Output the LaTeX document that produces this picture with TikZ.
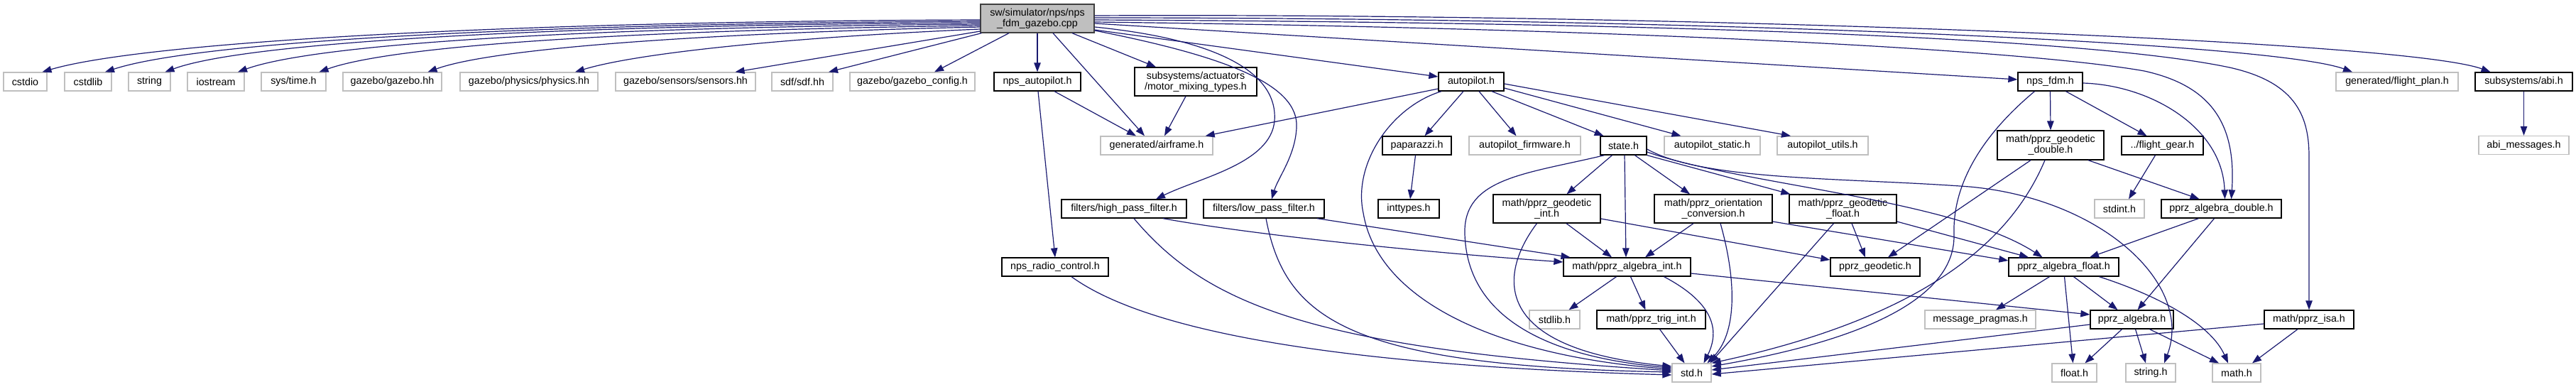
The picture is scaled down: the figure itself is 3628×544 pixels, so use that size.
\documentclass[tikz,border=0pt]{standalone}
\usepackage{fontspec}
\setmainfont{Liberation Sans}
\usetikzlibrary{arrows.meta}
\definecolor{edgeblue}{HTML}{191970}
\definecolor{boxgray}{HTML}{BFBFBF}
\definecolor{rootborder}{HTML}{404040}
\newcommand\dgfont{\fontsize{14.3}{15}\selectfont}
\begin{document}
\begin{tikzpicture}[x=1pt,y=-1pt,
  box/.style={rectangle, inner sep=0pt, align=center, font=\dgfont, line width=1.3pt, fill=white, minimum height=26pt},
  gbox/.style={box, draw=boxgray},
  bbox/.style={box, draw=black},
  rootbox/.style={box, draw=rootborder, fill=boxgray},
  e/.style={draw=edgeblue, line width=1.2pt, -{Triangle[length=13pt,width=9.5pt]}, fill=none}]
\fill[white] (0,0) rectangle (3628,544);
\useasboundingbox (0,0) rectangle (3628,544);

% root
\node[rootbox,minimum width=160pt,minimum height=40pt] (root) at (1461,26) {sw/simulator/nps/nps\\\_fdm\_gazebo.cpp};
% row 1
\node[gbox,minimum width=61pt] (cstdio) at (35.5,115) {cstdio};
\node[gbox,minimum width=66pt] (cstdlib) at (124,115) {cstdlib};
\node[gbox,minimum width=59pt] (string) at (210.5,115) {string};
\node[gbox,minimum width=80pt] (iostream) at (304,115) {iostream};
\node[gbox,minimum width=91pt] (systime) at (413.5,115) {sys/time.h};
\node[gbox,minimum width=139pt] (gazebo) at (552.5,115) {gazebo/gazebo.hh};
\node[gbox,minimum width=194pt] (physics) at (745,115) {gazebo/physics/physics.hh};
\node[gbox,minimum width=197pt] (sensors) at (965.5,115) {gazebo/sensors/sensors.hh};
\node[gbox,minimum width=86pt] (sdf) at (1130,115) {sdf/sdf.hh};
\node[gbox,minimum width=176pt] (gconfig) at (1285,115) {gazebo/gazebo\_config.h};
\node[bbox,minimum width=122pt] (npsap) at (1461,115) {nps\_autopilot.h};
\node[bbox,minimum width=172pt,minimum height=40pt] (motor) at (1684,115) {subsystems/actuators\\/motor\_mixing\_types.h};
\node[bbox,minimum width=92pt] (autopilot) at (2072,115) {autopilot.h};
\node[bbox,minimum width=91pt] (npsfdm) at (2887.5,115) {nps\_fdm.h};
\node[gbox,minimum width=172pt] (flightplan) at (3376,115) {generated/flight\_plan.h};
\node[bbox,minimum width=137pt] (abi) at (3554.5,115) {subsystems/abi.h};
% row 2
\node[gbox,minimum width=158pt] (airframe) at (1629,205) {generated/airframe.h};
\node[bbox,minimum width=97pt] (paparazzi) at (1995.5,205) {paparazzi.h};
\node[gbox,minimum width=157pt] (apfirm) at (2147.5,205) {autopilot\_firmware.h};
\node[bbox,minimum width=65pt] (state) at (2286.5,205) {state.h};
\node[gbox,minimum width=135pt] (apstatic) at (2411.5,205) {autopilot\_static.h};
\node[gbox,minimum width=128pt] (aputils) at (2567,205) {autopilot\_utils.h};
\node[bbox,minimum width=150pt,minimum height=41pt] (geodouble) at (2888,204.5) {math/pprz\_geodetic\\\_double.h};
\node[bbox,minimum width=115pt] (flightgear) at (3045.5,205) {../flight\_gear.h};
\node[gbox,minimum width=127pt] (abimsg) at (3554.5,204.5) {abi\_messages.h};
% row 3
\node[bbox,minimum width=176pt] (hpf) at (1583,294) {filters/high\_pass\_filter.h};
\node[bbox,minimum width=170pt] (lpf) at (1780,294) {filters/low\_pass\_filter.h};
\node[bbox,minimum width=86pt] (inttypes) at (1984,294) {inttypes.h};
\node[bbox,minimum width=151pt,minimum height=40pt] (geoint) at (2178.5,294) {math/pprz\_geodetic\\\_int.h};
\node[bbox,minimum width=166pt,minimum height=40pt] (orient) at (2413,294) {math/pprz\_orientation\\\_conversion.h};
\node[bbox,minimum width=151pt,minimum height=40pt] (geofloat) at (2595.5,294) {math/pprz\_geodetic\\\_float.h};
\node[gbox,minimum width=70pt] (stdint) at (2985,294) {stdint.h};
\node[bbox,minimum width=169pt] (algdouble) at (3128.5,294) {pprz\_algebra\_double.h};
% row 4
\node[bbox,minimum width=150pt] (radio) at (1486,376) {nps\_radio\_control.h};
\node[bbox,minimum width=179pt] (algint) at (2291.5,376) {math/pprz\_algebra\_int.h};
\node[bbox,minimum width=126pt] (geodetic) at (2641,376) {pprz\_geodetic.h};
\node[bbox,minimum width=155pt] (algfloat) at (2906.5,376) {pprz\_algebra\_float.h};
% row 5
\node[gbox,minimum width=71pt] (stdlib) at (2189.5,450) {stdlib.h};
\node[bbox,minimum width=153pt] (trigint) at (2325.5,450) {math/pprz\_trig\_int.h};
\node[gbox,minimum width=156pt] (pragmas) at (2789,450) {message\_pragmas.h};
\node[bbox,minimum width=117pt] (algebra) at (3002.5,450) {pprz\_algebra.h};
\node[bbox,minimum width=126pt] (isa) at (3252,450) {math/pprz\_isa.h};
% row 6
\node[gbox,minimum width=55pt] (std) at (2382.5,525) {std.h};
\node[gbox,minimum width=63pt] (float) at (2921.5,525) {float.h};
\node[gbox,minimum width=70pt] (stringh) at (3029,525) {string.h};
\node[gbox,minimum width=68pt] (math) at (3150,525) {math.h};

% ---- edges from root, to the left
\draw[e] ([yshift=-2pt]root.west) .. controls (700,30) and (200,60) .. ([xshift=24pt]cstdio.north);
\draw[e] ([yshift=-4pt]root.west) .. controls (750,33) and (280,58) .. ([xshift=24pt]cstdlib.north);
\draw[e] ([yshift=-6pt]root.west) .. controls (800,35) and (350,58) .. ([xshift=22pt]string.north);
\draw[e] ([yshift=-8pt]root.west) .. controls (850,38) and (450,60) .. ([xshift=31pt]iostream.north);
\draw[e] ([yshift=-10pt]root.west) .. controls (920,42) and (560,62) .. ([xshift=36pt]systime.north);
\draw[e] ([yshift=-12pt]root.west) .. controls (1020,46) and (700,66) .. ([xshift=50pt]gazebo.north);
\draw[e] ([yshift=-15pt]root.west) .. controls (1120,52) and (900,74) .. ([xshift=65pt]physics.north);
\draw[e] ([yshift=-18pt]root.west) -- ([xshift=70pt]sensors.north);
\draw[e] ([xshift=2pt]root.south west) -- ([xshift=37pt]sdf.north);
\draw[e] ([xshift=-40pt]root.south) -- ([xshift=31pt]gconfig.north);
\draw[e] (root.south) -- (npsap.north);
\draw[e] ([xshift=22pt]root.south) -- ([xshift=-17pt]airframe.north);
\draw[e] ([xshift=49pt]root.south) -- ([xshift=-56pt]motor.north);
% ---- edges from root, to the right
\draw[e] ([yshift=-12pt]root.east) .. controls (1710,55) and (1800,100) .. (1795,170) .. controls (1790,230) and (1690,250) .. ([xshift=45pt]hpf.north);
\draw[e] ([yshift=-17pt]root.east) .. controls (1730,80) and (1830,120) .. (1826,180) .. controls (1824,220) and (1800,250) .. ([xshift=11pt]lpf.north);
\draw[e] ([yshift=-16pt]root.east) -- ([yshift=7pt]autopilot.west);
\draw[e] ([yshift=-7pt]root.east) -- ([yshift=3pt]npsfdm.west);
\draw[e] ([yshift=1pt]root.east) .. controls (2400,25) and (3200,60) .. ([xshift=-63pt]flightplan.north);
\draw[e] ([yshift=4pt]root.east) .. controls (2300,18) and (3380,55) .. ([xshift=-47pt]abi.north);
\draw[e] ([yshift=-5pt]root.east) .. controls (2300,40) and (2850,70) .. (3020,100) .. controls (3110,120) and (3150,170) .. ([xshift=14pt]algdouble.north);
\draw[e] ([yshift=-2pt]root.east) .. controls (2400,32) and (2950,55) .. (3140,95) .. controls (3230,115) and (3252,160) .. (3252,220) -- (isa.north);

% ---- nps_autopilot.h, motor mixing
\draw[e] ([xshift=24pt]npsap.south) -- ([xshift=-29pt]airframe.north);
\draw[e] ([xshift=1pt]npsap.south) -- (radio.north);
\draw[e] ([xshift=-14pt]motor.south) -- ([xshift=11pt]airframe.north);

% ---- autopilot.h
\draw[e] ([yshift=-10pt]autopilot.west) -- ([xshift=-11pt]airframe.north east);
\draw[e] ([xshift=-11pt]autopilot.south) -- ([xshift=11pt]paparazzi.north);
\draw[e] ([xshift=11pt]autopilot.south) -- ([xshift=-12pt]apfirm.north);
\draw[e] ([xshift=29pt]autopilot.south) -- ([xshift=-28pt]state.north);
\draw[e] ([yshift=-9pt]autopilot.east) -- ([xshift=-44pt]apstatic.north);
\draw[e] ([yshift=-3pt]autopilot.east) -- ([xshift=-45pt]aputils.north);
\draw[e] ([xshift=-42pt]autopilot.south) .. controls (1960,150) and (1905,230) .. (1920,300) .. controls (1940,420) and (2100,500) .. ([yshift=5pt]std.west);

\draw[e] ([xshift=-2pt]paparazzi.south) -- ([xshift=2pt]inttypes.north);

% ---- state.h
\draw[e] ([xshift=-16pt]state.south) -- ([xshift=28pt]geoint.north);
\draw[e] ([xshift=1.5pt]state.south) -- ([xshift=-1.5pt]algint.north);
\draw[e] ([xshift=16pt]state.south) -- ([xshift=-33pt]orient.north);
\draw[e] (state.south east) -- ([xshift=2pt]geofloat.north west);
\draw[e] ([yshift=-9pt]state.east) .. controls (2450,260) and (2750,280) .. ([xshift=-30pt]algfloat.north);
\draw[e] ([yshift=-5pt]state.east) .. controls (2400,255) and (2600,250) .. (2774,263) .. controls (2960,280) and (3090,400) .. ([xshift=19pt]stringh.north);
\draw[e] ([xshift=-27pt]state.south) .. controls (2150,245) and (2060,250) .. (2063,330) .. controls (2066,430) and (2150,500) .. ([yshift=7pt]std.west);

% ---- geodetic int / orientation / geodetic float
\draw[e] ([xshift=27.5pt]geoint.south) -- ([xshift=-21.5pt]algint.north);
\draw[e] ([yshift=-14pt]geoint.east) -- ([yshift=10pt]geodetic.west);
\draw[e] ([xshift=-14pt]geoint.south) .. controls (2115,380) and (2090,490) .. ([yshift=9pt]std.west);
\draw[e] ([xshift=-28pt]orient.south) -- ([xshift=25.5pt]algint.north);
\draw[e] ([yshift=-18pt]orient.east) -- ([yshift=9pt]algfloat.west);
\draw[e] ([xshift=10pt]orient.south) .. controls (2447,400) and (2445,470) .. ([xshift=22pt]std.north);
\draw[e] ([xshift=12.5pt]geofloat.south) -- ([xshift=-14pt]geodetic.north);
\draw[e] ([yshift=-18pt]geofloat.east) -- ([xshift=-49.5pt]algfloat.north);
\draw[e] ([xshift=-13pt]geofloat.south) -- ([xshift=26pt]std.north);

% ---- nps_fdm.h and geodetic double
\draw[e] (npsfdm.south) -- (geodouble.north);
\draw[e] ([xshift=22pt]npsfdm.south) -- ([xshift=-22pt]flightgear.north);
\draw[e] ([yshift=-2pt]npsfdm.east) .. controls (3030,120) and (3130,180) .. ([xshift=5pt]algdouble.north);
\draw[e] ([xshift=-22pt]npsfdm.south) .. controls (2780,200) and (2750,270) .. (2752,330) .. controls (2755,440) and (2560,490) .. ([yshift=9pt]std.east);
\draw[e] ([xshift=-28pt]geodouble.south) -- ([xshift=18pt]geodetic.north);
\draw[e] ([xshift=-8pt]geodouble.south) .. controls (2840,320) and (2740,440) .. (std.north east);
\draw[e] ([xshift=53pt]geodouble.south) -- ([xshift=-31pt]algdouble.north);
\draw[e] ([xshift=-10pt]flightgear.south) -- ([xshift=13pt]stdint.north);

% ---- algebra double
\draw[e] ([xshift=-32pt]algdouble.south) -- ([xshift=36.5pt]algfloat.north);
\draw[e] ([xshift=-10pt]algdouble.south) -- ([xshift=8pt]algebra.north);

% ---- radio, filters
\draw[e] ([xshift=23pt]radio.south) .. controls (1620,470) and (1900,515) .. ([yshift=-3pt]std.west);
\draw[e] ([xshift=55pt]hpf.south) .. controls (1760,330) and (2000,355) .. ([yshift=7pt]algint.west);
\draw[e] ([xshift=14pt]hpf.south) .. controls (1700,430) and (1850,490) .. ([yshift=3pt]std.west);
\draw[e] ([xshift=75pt]lpf.south) -- ([xshift=-80pt]algint.north);
\draw[e] ([xshift=3pt]lpf.south) .. controls (1810,450) and (1900,515) .. ([yshift=1pt]std.west);

% ---- algebra int
\draw[e] ([xshift=-15pt]algint.south) -- ([xshift=20pt]stdlib.north);
\draw[e] ([xshift=5pt]algint.south) -- ([xshift=-8pt]trigint.north);
\draw[e] ([xshift=52pt]algint.south) .. controls (2420,430) and (2420,470) .. ([xshift=17pt]std.north);
\draw[e] ([yshift=-9pt]algint.east) -- ([yshift=7pt]algebra.west);
\draw[e] ([xshift=12pt]trigint.south) -- ([xshift=-10pt]std.north);

% ---- algebra float
\draw[e] ([xshift=-20pt]algfloat.south) -- ([xshift=22pt]pragmas.north);
\draw[e] ([xshift=14pt]algfloat.south) -- ([xshift=-20pt]algebra.north);
\draw[e] ([xshift=1pt]algfloat.south) -- ([xshift=-2pt]float.north);
\draw[e] ([xshift=50pt]algfloat.south) .. controls (3050,420) and (3115,460) .. ([xshift=-12pt]math.north);

% ---- algebra, isa
\draw[e] ([xshift=-14pt]algebra.south) -- ([xshift=15pt]float.north);
\draw[e] ([xshift=5pt]algebra.south) -- ([xshift=-7pt]stringh.north);
\draw[e] ([xshift=25pt]algebra.south) -- ([xshift=-25pt]math.north);
\draw[e] ([yshift=-7pt]algebra.west) -- ([yshift=4pt]std.east);
\draw[e] ([xshift=-16pt]isa.south) -- ([xshift=22pt]math.north);
\draw[e] ([yshift=-6pt]isa.west) -- ([yshift=-2pt]std.east);

% ---- abi
\draw[e] (abi.south) -- (abimsg.north);
\end{tikzpicture}
\end{document}
